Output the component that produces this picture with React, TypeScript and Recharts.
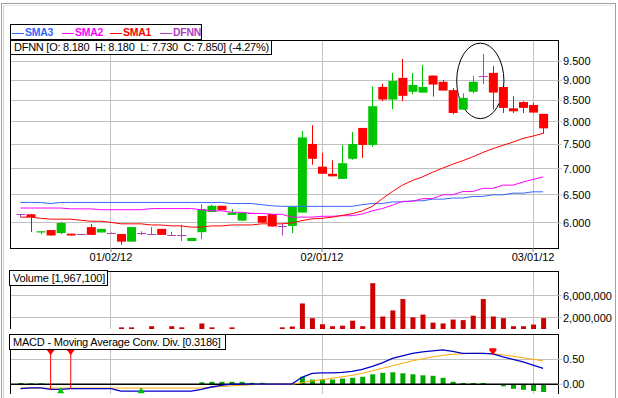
import React from 'react'
import {
  ComposedChart,
  Bar,
  Line,
  Scatter,
  XAxis,
  YAxis,
  CartesianGrid,
  ReferenceArea,
  ReferenceLine,
} from 'recharts'

// daily OHLC for DFNN, one entry per trading day (index 0..52)
const opens = [
  6.15, 6.15, 5.84, 5.88, 5.83, 5.82, 5.81, 5.93, 5.84, 5.83,
  5.815, 5.69, 5.83, 5.815, 5.9, 5.8, 5.8, 5.7, 5.845, 6.19,
  6.3, 6.14, 6.04, 6.17, 6.12, 6.155, 5.95, 5.95, 6.18, 7.51,
  7.04, 6.9, 6.8, 7.2, 7.86, 7.49, 8.83, 8.52, 9.06, 8.71,
  8.69, 9.12, 8.96, 8.75, 8.28, 8.71, 9.11, 9.19, 8.83, 8.31,
  8.46, 8.39, 8.18,
]
const highs = [
  6.15, 6.15, 5.86, 5.88, 6.02, 5.82, 5.82, 5.98, 5.9, 5.84,
  5.815, 5.93, 5.86, 5.93, 5.9, 5.85, 5.97, 5.75, 6.33, 6.32,
  6.3, 6.24, 6.18, 6.18, 6.12, 6.155, 6.0, 6.3, 7.79, 7.92,
  7.32, 7.17, 7.49, 7.77, 7.86, 8.84, 8.91, 9.19, 9.56, 9.19,
  9.4, 9.12, 9.01, 8.8, 8.67, 9.11, 9.7, 9.37, 8.83, 8.6,
  8.48, 8.44, 8.18,
]
const lows = [
  6.1, 5.85, 5.81, 5.79, 5.81, 5.79, 5.8, 5.8, 5.84, 5.82,
  5.64, 5.69, 5.8, 5.8, 5.8, 5.79, 5.7, 5.7, 5.73, 6.19,
  6.22, 6.14, 6.04, 6.16, 6.005, 5.94, 5.79, 5.83, 6.18, 7.08,
  6.9, 6.85, 6.8, 7.18, 7.22, 7.45, 8.48, 8.29, 8.48, 8.65,
  8.69, 8.59, 8.74, 8.17, 8.28, 8.67, 8.9, 8.28, 8.2, 8.2,
  8.2, 8.21, 7.73,
]
const closes = [
  6.15, 6.1, 5.86, 5.79, 6.0, 5.79, 5.81, 5.8, 5.9, 5.83,
  5.69, 5.93, 5.83, 5.815, 5.8, 5.8, 5.8, 5.75, 6.24, 6.3,
  6.22, 6.18, 6.18, 6.17, 6.005, 5.94, 5.95, 6.28, 7.65, 7.2,
  6.9, 6.85, 7.11, 7.51, 7.49, 8.36, 8.52, 8.98, 8.61, 8.88,
  8.83, 8.89, 8.74, 8.2, 8.56, 8.96, 9.11, 8.69, 8.32, 8.24,
  8.32, 8.21, 7.85,
]
const sma1 = [
  6.1, 6.1, 6.08, 6.065, 6.065, 6.065, 6.046, 6.03, 6.03, 6.01,
  5.985, 5.985, 5.985, 5.966, 5.966, 5.95, 5.95, 5.93, 5.93, 5.95,
  5.95, 5.966, 5.966, 5.966, 5.985, 5.985, 5.985, 6.0, 6.04, 6.07,
  6.08, 6.1, 6.13, 6.16, 6.21, 6.29, 6.43, 6.56, 6.68, 6.77,
  6.84, 6.93, 7.01, 7.09, 7.16, 7.24, 7.33, 7.41, 7.48, 7.55,
  7.63, 7.68, 7.74,
]
const sma2 = [
  6.26, 6.26, 6.26, 6.26, 6.26, 6.245, 6.245, 6.245, 6.23, 6.23,
  6.23, 6.23, 6.23, 6.25, 6.25, 6.25, 6.25, 6.25, 6.23, 6.21,
  6.21, 6.185, 6.185, 6.165, 6.165, 6.15, 6.15, 6.1, 6.1, 6.1,
  6.115, 6.115, 6.125, 6.125, 6.155, 6.21, 6.25, 6.31, 6.38, 6.38,
  6.43, 6.43, 6.5, 6.5, 6.56, 6.56, 6.62, 6.62, 6.68, 6.68,
  6.74, 6.79, 6.84,
]
const sma3 = [
  6.36, 6.36, 6.36, 6.34, 6.36, 6.36, 6.36, 6.36, 6.36, 6.36,
  6.36, 6.36, 6.36, 6.36, 6.36, 6.36, 6.36, 6.36, 6.36, 6.36,
  6.36, 6.34, 6.34, 6.34, 6.32, 6.3, 6.29, 6.29, 6.29, 6.29,
  6.29, 6.29, 6.29, 6.29, 6.32, 6.34, 6.34, 6.37, 6.37, 6.39,
  6.39, 6.42, 6.42, 6.44, 6.44, 6.47, 6.47, 6.5, 6.5, 6.53,
  6.53, 6.555, 6.555,
]
const volumes = [
  0, 0, 0, 0, 0, 0, 0, 0, 0, 0,
  300000, 300000, 0, 500000, 0, 500000, 300000, 0, 1000000, 300000,
  0, 300000, 0, 0, 0, 0, 300000, 450000, 4600000, 1950000,
  850000, 500000, 600000, 1500000, 500000, 8250000, 2250000, 3350000, 5400000, 2100000,
  2600000, 1150000, 1000000, 1700000, 1600000, 2400000, 5400000, 2250000, 1950000, 500000,
  500000, 800000, 1967100,
]
const macd = [
  -0.088, -0.07, -0.07, -0.1, -0.1, -0.088, -0.088, -0.088, -0.088, -0.088,
  -0.135, -0.135, -0.135, -0.135, -0.135, -0.135, -0.135, -0.135, -0.1, -0.054,
  -0.02, 0.005, 0.005, 0.005, 0.005, 0.005, 0.005, 0.005, 0.14, 0.22,
  0.23, 0.23, 0.24, 0.26, 0.3, 0.36, 0.43, 0.52, 0.57, 0.62,
  0.65, 0.67, 0.69, 0.66, 0.62, 0.62, 0.62, 0.61, 0.55, 0.5,
  0.45, 0.385, 0.3186,
]
const signal = [
  -0.075, -0.075, -0.075, -0.075, -0.075, -0.075, -0.075, -0.075, -0.075, -0.075,
  -0.075, -0.075, -0.075, -0.075, -0.075, -0.075, -0.075, -0.075, -0.075, -0.06,
  -0.045, -0.03, -0.02, -0.01, 0, 0, 0, 0, 0.03, 0.07,
  0.09, 0.12, 0.15, 0.18, 0.22, 0.27, 0.32, 0.37, 0.42, 0.47,
  0.51, 0.55, 0.58, 0.6, 0.61, 0.62, 0.62, 0.61, 0.59, 0.56,
  0.53, 0.5, 0.47,
]
const histogram = [
  0.027, 0.02, 0.02, 0, 0, 0, 0, 0, 0, 0,
  0, 0, 0, 0, 0, 0, 0, 0, 0.04, 0.05,
  0.05, 0.05, 0.05, 0.03, 0.03, 0, 0, 0, 0.15, 0.095,
  0.095, 0.095, 0.115, 0.13, 0.15, 0.2, 0.23, 0.24, 0.22, 0.2,
  0.18, 0.17, 0.13, 0.05, 0.027, 0.027, 0.027, 0, -0.04, -0.09,
  -0.11, -0.135, -0.155,
]

// MACD crossover markers
const sellSignals = [3, 5, 47]
const sellLevel = 0.65
const sellStems = [3, 5]
const buySignals = [4, 12]
const buyLevel = -0.12

const xTicks = [9, 30, 51]
const xTickLabels = ['01/02/12', '02/01/12', '03/01/12']
const priceTicks = [6, 6.5, 7, 7.5, 8, 8.5, 9, 9.5]
const volumeTicks = [2000000, 6000000]
const macdTicks = [0, 0.5]

const xDomain: [number, number] = [-1.045, 53.48]
const priceDomain: [number, number] = [5.588, 10.09]
const volumeDomain: [number, number] = [0, 10450000]
const macdDomain: [number, number] = [-0.194, 1.006]

// hand drawn circle around the spike day
const circled = { x1: 43.4, x2: 48.1, y1: 8.07, y2: 10.0 }

const UP = '#00c400'
const DOWN = '#ff0000'
const DOJI = '#b040b8'
const GRID = '#c0c0c0'
const FONT = '"Liberation Sans", Arial, sans-serif'

const rows = opens.map((open, i) => ({
  i,
  open,
  high: highs[i],
  low: lows[i],
  close: closes[i],
  range: [lows[i], highs[i]],
  sma1: sma1[i],
  sma2: sma2[i],
  sma3: sma3[i],
  volume: volumes[i],
  macd: macd[i],
  signal: signal[i],
  hist: histogram[i],
}))

const sellRows = sellSignals.map((i) => ({ i, y: sellLevel }))
const buyRows = buySignals.map((i) => ({ i, y: buyLevel }))

function Candle(props: any) {
  const { x, y, width, height, payload } = props
  const top = Math.min(y, y + height)
  const bottom = Math.max(y, y + height)
  const { open, high, low, close } = payload
  // price axis is logarithmic, so place open/close on the same log scale as high/low
  const lh = Math.log(high)
  const span = lh - Math.log(low)
  const py = (p: number) => (span > 0 ? top + ((bottom - top) * (lh - Math.log(p))) / span : top)
  const cx = Math.floor(x + width / 2) + 0.5
  const color = close > open ? UP : close < open ? DOWN : DOJI
  if (close === open) {
    const yy = Math.round(py(open)) + 0.5
    return (
      <g>
        <line x1={cx} x2={cx} y1={top} y2={bottom} stroke={color} />
        <line x1={x} x2={x + width} y1={yy} y2={yy} stroke={color} />
      </g>
    )
  }
  const bt = py(Math.max(open, close))
  const bb = py(Math.min(open, close))
  return (
    <g>
      <line x1={cx} x2={cx} y1={top} y2={bottom} stroke={color} />
      <rect x={x} y={bt} width={width} height={Math.max(1, bb - bt)} fill={color} />
    </g>
  )
}

const SellMark = (p: any) => (
  <path
    d={`M${p.cx - 3.5},${p.cy - 3.5}h7v2l-3.5,5l-3.5,-5z`}
    fill="#ff0000"
  />
)
const BuyMark = (p: any) => (
  <path d={`M${p.cx},${p.cy - 3}l3.5,6h-7z`} fill="#00c000" />
)

const Ellipse = (p: any) => (
  <ellipse
    cx={p.x + p.width / 2}
    cy={p.y + p.height / 2}
    rx={Math.abs(p.width) / 2}
    ry={Math.abs(p.height) / 2}
    fill="none"
    stroke="#000"
  />
)

const tickStyle = { fill: '#000', fontSize: 11, fontFamily: FONT }

function rightAxis(domain: [number, number], ticks: number[], fmt: (v: number) => string, log = false) {
  return (
    <YAxis
      orientation="right"
      type="number"
      scale={log ? 'log' : 'linear'}
      domain={domain}
      allowDataOverflow
      ticks={ticks}
      interval={0}
      tickFormatter={fmt}
      width={60}
      axisLine={false}
      tickLine={{ stroke: GRID }}
      tickSize={4}
      tickMargin={1}
      tick={tickStyle}
    />
  )
}

function frame(yDomain: [number, number]) {
  return (
    <ReferenceArea
      x1={xDomain[0]}
      x2={xDomain[1]}
      y1={yDomain[0]}
      y2={yDomain[1]}
      fill="none"
      fillOpacity={0}
      stroke="#000"
      ifOverflow="visible"
      shapeRendering="crispEdges"
    />
  )
}

function PriceChart() {
  return (
    <ComposedChart width={618} height={270} data={rows} margin={{ top: 40, right: 0, bottom: 0, left: 10 }}>
      <CartesianGrid stroke={GRID} shapeRendering="crispEdges" />
      <XAxis
        type="number"
        dataKey="i"
        domain={xDomain}
        allowDataOverflow
        ticks={xTicks}
        interval={0}
        tickFormatter={(v: number) => xTickLabels[xTicks.indexOf(v)]}
        axisLine={false}
        tickLine={{ stroke: '#808080' }}
        tickSize={4}
        tickMargin={1}
        height={22}
        tick={tickStyle}
      />
      {rightAxis(priceDomain, priceTicks, (v) => v.toFixed(3), true)}
      <Bar dataKey="range" name="DFNN" barSize={9} shape={<Candle />} isAnimationActive={false} />
      <Line dataKey="sma3" name="SMA3" stroke="#3366ff" dot={false} strokeWidth={1} isAnimationActive={false} />
      <Line dataKey="sma2" name="SMA2" stroke="#ff00ff" dot={false} strokeWidth={1} isAnimationActive={false} />
      <Line dataKey="sma1" name="SMA1" stroke="#ff0000" dot={false} strokeWidth={1} isAnimationActive={false} />
      <ReferenceArea {...circled} ifOverflow="visible" shape={Ellipse} />
      {frame(priceDomain)}
    </ComposedChart>
  )
}

function VolumeChart() {
  return (
    <ComposedChart width={618} height={59} data={rows} margin={{ top: 1, right: 0, bottom: 0, left: 10 }}>
      <CartesianGrid stroke={GRID} shapeRendering="crispEdges" />
      <XAxis type="number" dataKey="i" domain={xDomain} allowDataOverflow ticks={xTicks} interval={0} hide />
      {rightAxis(volumeDomain, volumeTicks, (v) => v.toLocaleString('en-US'))}
      <Bar dataKey="volume" barSize={5} fill="#cc0000" isAnimationActive={false} />
      {frame(volumeDomain)}
    </ComposedChart>
  )
}

function MacdChart() {
  return (
    <ComposedChart width={618} height={60} data={rows} margin={{ top: 0, right: 0, bottom: 0, left: 10 }}>
      <CartesianGrid stroke={GRID} shapeRendering="crispEdges" />
      <XAxis type="number" dataKey="i" domain={xDomain} allowDataOverflow ticks={xTicks} interval={0} hide />
      {rightAxis(macdDomain, macdTicks, (v) => v.toFixed(2))}
      <Bar dataKey="hist" barSize={5} fill="#00a800" isAnimationActive={false} />
      <ReferenceLine y={0} stroke="#000" strokeWidth={1.5} />
      <Line dataKey="signal" stroke="#ffaa00" dot={false} strokeWidth={1} isAnimationActive={false} />
      <Line dataKey="macd" stroke="#0000cc" dot={false} strokeWidth={1.3} isAnimationActive={false} />
      {sellStems.map((i) => (
        <ReferenceLine
          key={i}
          segment={[{ x: i, y: sellLevel }, { x: i, y: macd[i] }]}
          stroke="#ff0000"
          ifOverflow="visible"
        />
      ))}
      <Scatter data={sellRows} dataKey="y" shape={SellMark} isAnimationActive={false} />
      <Scatter data={buyRows} dataKey="y" shape={BuyMark} isAnimationActive={false} />
      {frame(macdDomain)}
    </ComposedChart>
  )
}

const box: React.CSSProperties = {
  position: 'absolute',
  boxSizing: 'border-box',
  border: '1px solid #000',
  background: '#fff',
  whiteSpace: 'pre',
  paddingLeft: 3,
}

const legendItems = [
  { name: 'SMA3', color: '#3366ff', left: 1 },
  { name: 'SMA2', color: '#ff00ff', left: 51 },
  { name: 'SMA1', color: '#ff0000', left: 99 },
  { name: 'DFNN', color: '#b040c0', left: 149 },
]

export default function App() {
  return (
    <div
      style={{
        position: 'absolute',
        left: 0,
        top: 0,
        width: 618,
        height: 398,
        background: '#fff',
        overflow: 'hidden',
        fontFamily: FONT,
        fontSize: 11,
        color: '#000',
      }}
    >
      <div style={{ position: 'absolute', left: 1, top: 3, width: 613, height: 420, borderTop: '1px solid #a0a0a0', borderLeft: '1px solid #a0a0a0', borderRight: '1px solid #a0a0a0' }} />
      <div style={{ position: 'absolute', left: 3, top: 5, width: 609, height: 420, borderLeft: '1px solid #d0d0d0', borderTop: '1px solid #e8e8e8' }} />
      <div style={{ position: 'absolute', left: 0, top: 0 }}>
        <PriceChart />
      </div>
      <div style={{ position: 'absolute', left: 0, top: 270 }}>
        <VolumeChart />
      </div>
      <div style={{ position: 'absolute', left: 0, top: 334 }}>
        <MacdChart />
      </div>

      <div style={{ ...box, left: 10, top: 24, width: 192, height: 16, paddingLeft: 0, fontWeight: 'bold', fontSize: 10.5, letterSpacing: -0.3 }}>
        {legendItems.map((it) => (
          <div key={it.name} style={{ position: 'absolute', left: it.left, top: 0, height: 14, lineHeight: '14px', color: it.color }}>
            <span style={{ display: 'inline-block', width: 12, height: 1, background: it.color, verticalAlign: 'middle', marginRight: 1 }} />
            {it.name}
          </div>
        ))}
      </div>
      <div style={{ ...box, left: 10, top: 40, width: 262, height: 15, lineHeight: '13px', letterSpacing: -0.25 }}>
        {'DFNN [O: 8.180  H: 8.180  L: 7.730  C: 7.850] (-4.27%)'}
      </div>
      <div style={{ ...box, left: 9, top: 270, width: 99, height: 16, lineHeight: '14px', letterSpacing: -0.15 }}>
        {'Volume [1,967,100]'}
      </div>
      <div style={{ ...box, left: 9, top: 334, width: 217, height: 16, lineHeight: '14px', letterSpacing: -0.2 }}>
        {'MACD - Moving Average Conv. Div. [0.3186]'}
      </div>
    </div>
  )
}
